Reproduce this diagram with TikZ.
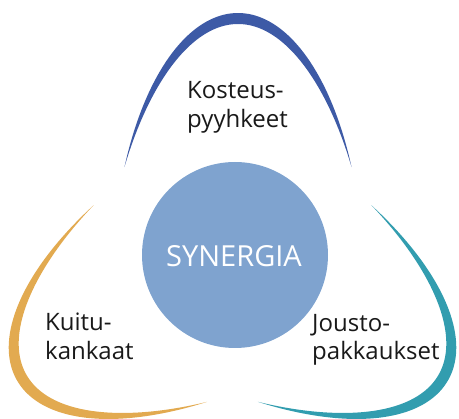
\documentclass[tikz,border=0pt]{standalone}
\usepackage{fontspec}
\setmainfont{Open Sans}
\definecolor{petalblue}{RGB}{61,90,166}
\definecolor{petalorange}{RGB}{226,170,80}
\definecolor{petalteal}{RGB}{50,157,175}
\definecolor{hubblue}{RGB}{127,163,207}
\definecolor{labelgray}{RGB}{25,25,25}
\tikzset{
  petal/.pic={
    \fill[pic actions]
      plot[domain=25.3:154.7, samples=120, variable=\t]
        ({125.6*cos(\t)},{-269*sin(\t)})
      -- plot[domain=154.7:25.3, samples=120, variable=\t]
        ({(125.6-19.2*(sin(\t)-0.4275))*cos(\t)},{-(269-19.2*(sin(\t)-0.4275))*sin(\t)})
      -- cycle;
  },
  labeltext/.style={font=\fontsize{24}{29}\selectfont, text=labelgray, inner sep=0pt, anchor=base west},
  hubtext/.style={font=\fontsize{29}{34}\selectfont, text=white, inner sep=0pt}
}
\begin{document}
\begin{tikzpicture}[x=1pt, y=-1pt]
  \useasboundingbox (0,0) rectangle (459,419);
  \clip (0,0) rectangle (459,419);
  % petals
  \pic[fill=petalblue] (toppetal) at (238,282) {petal};
  \pic[fill=petalorange, rotate=120] (leftpetal) at (250,246) {petal};
  \pic[fill=petalteal, rotate=-120] (rightpetal) at (215,246) {petal};
  % hub
  \node[circle, fill=hubblue, minimum size=186pt, inner sep=0pt] (hub) at (235,255) {};
  \node[hubtext] (hublabel) at (234,256) {SYNERGIA};
  % labels
  \node[labeltext] (kost1) at (187,99) {Kosteus-};
  \node[labeltext] (kost2) at (187,128) {pyyhkeet};
  \node[labeltext] (kuit1) at (45,331) {Kuitu-};
  \node[labeltext] (kuit2) at (45,360) {kankaat};
  \node[labeltext] (jous1) at (312,332) {Jousto-};
  \node[labeltext] (jous2) at (312,360) {pakkaukset};
\end{tikzpicture}
\end{document}
